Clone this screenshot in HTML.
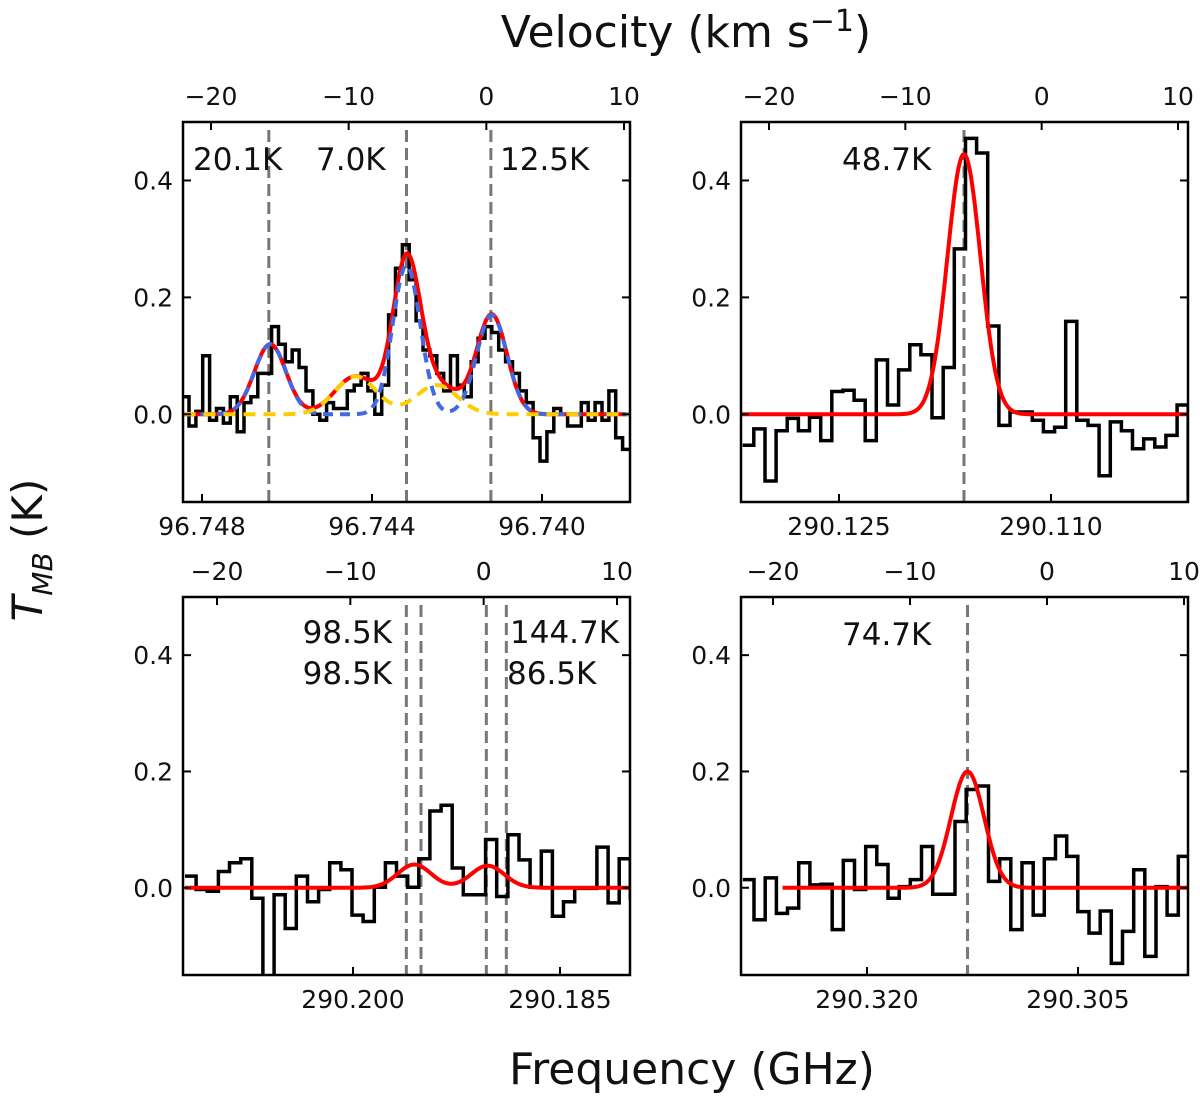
<!DOCTYPE html>
<html><head><meta charset="utf-8"><style>
body{margin:0;background:#fff;}
svg text{font-family:"DejaVu Sans","Liberation Sans",sans-serif;fill:#111;}
</style></head><body>
<svg id="fig" width="1200" height="1098" viewBox="0 0 1200 1098" xmlns="http://www.w3.org/2000/svg">
<text x="686" y="47" font-size="44" text-anchor="middle">Velocity (km s<tspan dy="-16" font-size="30">−1</tspan><tspan dy="16">)</tspan></text>
<text x="692" y="1084" font-size="44" text-anchor="middle">Frequency (GHz)</text>
<text transform="translate(42,550) rotate(-90)" font-size="42" text-anchor="middle"><tspan font-style="italic">T</tspan><tspan font-style="italic" font-size="28" dy="10">MB</tspan><tspan dy="-10"> (K)</tspan></text>
</svg>
<script>
// ---- data ----
const p1Start=-22.6, p1Bin=0.5;
const p1Values=[-0.085,0.03,-0.02,0.005,0.1,-0.01,0.01,-0.015,0.03,-0.03,0.02,0.03,0.07,0.07,0.15,0.12,0.09,0.11,0.08,0.04,0.0,-0.01,0.02,0.01,0.01,0.04,0.05,0.07,0.04,0.0,0.05,0.17,0.25,0.29,0.23,0.16,0.11,0.10,0.07,0.04,0.10,0.05,0.03,0.09,0.13,0.15,0.14,0.11,0.09,0.07,0.04,0.02,-0.04,-0.08,-0.03,0.01,0.0,-0.02,-0.02,0.02,-0.01,0.02,-0.01,0.04,-0.04,-0.06];
const p1Blue=[[-15.7,0.12,1.15],[-5.8,0.255,1.0],[0.4,0.17,1.1]];
const p1Yellow=[[-9.5,0.065,1.5],[-3.6,0.05,1.5]];
const p1Lines=[-15.8,-5.8,0.33];
const p2Start=-21.93, p2Bin=0.817;
const p2Values=[-0.053,-0.025,-0.114,-0.028,-0.007,-0.028,-0.005,-0.045,0.039,0.041,0.024,-0.045,0.093,0.016,0.076,0.119,0.102,-0.006,0.08,0.283,0.472,0.447,0.151,-0.019,0.004,0.004,-0.01,-0.03,-0.022,0.159,-0.01,-0.019,-0.105,-0.013,-0.028,-0.059,-0.042,-0.056,-0.036,0.016,-0.16];
const p2Gauss=[[-5.7,0.445,1.21]];
const p2Lines=[-5.7];
const p3Start=-22.4, p3Bin=0.835;
const p3Values=[0.02,-0.003,-0.006,0.028,0.043,0.05,-0.018,-0.16,-0.012,-0.07,0.02,-0.024,-0.003,0.043,0.031,-0.047,-0.058,0.001,0.043,0.02,0.001,0.05,0.132,0.142,0.034,-0.012,-0.012,0.083,-0.015,0.091,0.048,0.001,0.063,-0.049,-0.024,-0.001,-0.001,0.07,-0.026,0.05,-0.018,-0.044];
const p3Gauss=[[-5.2,0.04,1.25],[0.3,0.038,1.25]];
const p3Lines=[-5.8,-4.7,0.2,1.7];
const p4Start=-22.2, p4Bin=0.815;
const p4Values=[0.014,-0.055,0.017,-0.044,-0.035,0.043,0.005,0.006,-0.072,0.047,-0.003,0.071,0.04,-0.018,0.002,0.014,0.071,-0.011,-0.011,0.114,0.169,0.175,0.011,0.05,-0.072,0.043,-0.047,0.05,0.089,0.054,-0.041,-0.078,-0.04,-0.13,-0.075,0.031,-0.118,0.002,-0.047,0.054,0.037];
const p4Gauss=[[-5.8,0.2,1.21]];
const p4Lines=[-5.8];
const velTicks=[-20,-10,0,10];
const yTicks=[0.0,0.2,0.4];
const yTickLabels=["0.0","0.2","0.4"];
const p1FreqTicks=[96.748,96.744,96.740];
const p2FreqTicks=[290.125,290.110];
const p3FreqTicks=[290.200,290.185];
const p4FreqTicks=[290.320,290.305];

const NS="http://www.w3.org/2000/svg";
const svg=document.getElementById('fig');
function el(tag,attrs,parent){const e=document.createElementNS(NS,tag);for(const k in attrs)e.setAttribute(k,attrs[k]);(parent||svg).appendChild(e);return e;}
function gsum(g,v){let s=0;for(const [c,a,sg] of g)s+=a*Math.exp(-0.5*((v-c)/sg)**2);return s;}

const panels=[
 {id:'p1',x0:183,x1:630,y0:122,y1:502,v20:211,v10:624,f0:96.748,fx0:202,fpx:170/0.004,ft:p1FreqTicks,start:p1Start,bin:p1Bin,vals:p1Values,gauss:p1Blue.concat(p1Yellow),blue:p1Blue,yellow:p1Yellow,lines:p1Lines,mv0:-22,
  ann:[["20.1K",193,170,"start"],["7.0K",316,170,"start"],["12.5K",500,170,"start"]],lineTop:130},
 {id:'p2',x0:741,x1:1188,y0:122,y1:502,v20:769,v10:1178,f0:290.125,fx0:839,fpx:212/0.015,ft:p2FreqTicks,start:p2Start,bin:p2Bin,vals:p2Values,gauss:p2Gauss,lines:p2Lines,mv0:-22.1,
  ann:[["48.7K",842,170,"start"]],lineTop:130},
 {id:'p3',x0:183,x1:630,y0:597,y1:975,v20:217,v10:617,f0:290.200,fx0:353,fpx:207/0.015,ft:p3FreqTicks,start:p3Start,bin:p3Bin,vals:p3Values,gauss:p3Gauss,lines:p3Lines,mv0:-22.4,
  ann:[["98.5K",392,643,"end"],["98.5K",392,684,"end"],["144.7K",510,643,"start"],["86.5K",507,684,"start"]],lineTop:605},
 {id:'p4',x0:741,x1:1188,y0:597,y1:975,v20:773,v10:1184,f0:290.320,fx0:867,fpx:211/0.015,ft:p4FreqTicks,start:p4Start,bin:p4Bin,vals:p4Values,gauss:p4Gauss,lines:p4Lines,mv0:-19.3,
  ann:[["74.7K",842,645,"start"]],lineTop:605}
];

panels.forEach(p=>{
 const g=el('g',{});
 
 
 const k=(p.v10-p.v20)/30;
 const xv=v=>p.v20+(v+20)*k;
 const vAtX=x=>-20+(x-p.v20)/k;
 const h=p.y1-p.y0;
 const yv=t=>p.y1-(t+0.15)/0.65*h;
 const clipId='clip-'+p.id;
 const cp=el('clipPath',{id:clipId},g);el('rect',{x:p.x0,y:p.y0,width:p.x1-p.x0,height:h},cp);
 const inner=el('g',{'clip-path':'url(#'+clipId+')'},g);
 p.lines.forEach(v=>{const l=el('line',{x1:xv(v),x2:xv(v),y1:p.lineTop,y2:p.y1,stroke:'#777','stroke-width':3,'stroke-dasharray':'12,6'},inner);
  });
 let d='';
 p.vals.forEach((t,i)=>{const xa=xv(p.start+i*p.bin),xb=xv(p.start+(i+1)*p.bin),y=yv(t);d+=(i?'L':'M')+xa.toFixed(1)+','+y.toFixed(1)+'L'+xb.toFixed(1)+','+y.toFixed(1);});
 const sp=el('path',{d:d,fill:'none',stroke:'#000','stroke-width':3.5},inner);
 
 const curve=(gs,v0)=>{let s='';const vEnd=vAtX(p.x1);for(let v=v0,i=0;v<=vEnd+0.1;v+=0.1,i++){s+=(i?'L':'M')+xv(v).toFixed(1)+','+yv(gsum(gs,v)).toFixed(1);}return s;};
 const red=el('path',{d:curve(p.gauss,p.mv0),fill:'none',stroke:'#ff0000','stroke-width':4},inner);
 
 if(p.blue){
  const b=el('path',{d:curve(p.blue,p.mv0),fill:'none',stroke:'#4169e1','stroke-width':4,'stroke-dasharray':'10,7'},inner);
  
  const yl=el('path',{d:curve(p.yellow,p.mv0),fill:'none',stroke:'#ffcc00','stroke-width':4,'stroke-dasharray':'12,8'},inner);
  
 }
 const fr=el('rect',{x:p.x0,y:p.y0,width:p.x1-p.x0,height:h,fill:'none',stroke:'#000','stroke-width':2.5},g);
 
 yTicks.forEach((t,i)=>{const y=yv(t);
  el('line',{x1:p.x0,x2:p.x0+8,y1:y,y2:y,stroke:'#000','stroke-width':2},g);
  el('line',{x1:p.x1-8,x2:p.x1,y1:y,y2:y,stroke:'#000','stroke-width':2},g);
  const tl=el('text',{x:p.x0-10,y:y+9,'font-size':25,'text-anchor':'end'},g);tl.textContent=yTickLabels[i];
  });
 velTicks.forEach(v=>{const x=xv(v);
  el('line',{x1:x,x2:x,y1:p.y0,y2:p.y0+8,stroke:'#000','stroke-width':2},g);
  const tl=el('text',{x:x,y:p.y0-17,'font-size':25,'text-anchor':'middle'},g);tl.textContent=(v<0?'−':'')+Math.abs(v);
  });
 p.ft.forEach(f=>{const x=p.fx0+(p.f0-f)*p.fpx;
  el('line',{x1:x,x2:x,y1:p.y1-8,y2:p.y1,stroke:'#000','stroke-width':2},g);
  const tl=el('text',{x:x,y:p.y1+33,'font-size':25,'text-anchor':'middle'},g);tl.textContent=f.toFixed(3);
  });
 p.ann.forEach(a=>{const t=el('text',{x:a[1],y:a[2],'font-size':31,'text-anchor':a[3]},g);t.textContent=a[0];
  });
});
</script>
</body></html>
